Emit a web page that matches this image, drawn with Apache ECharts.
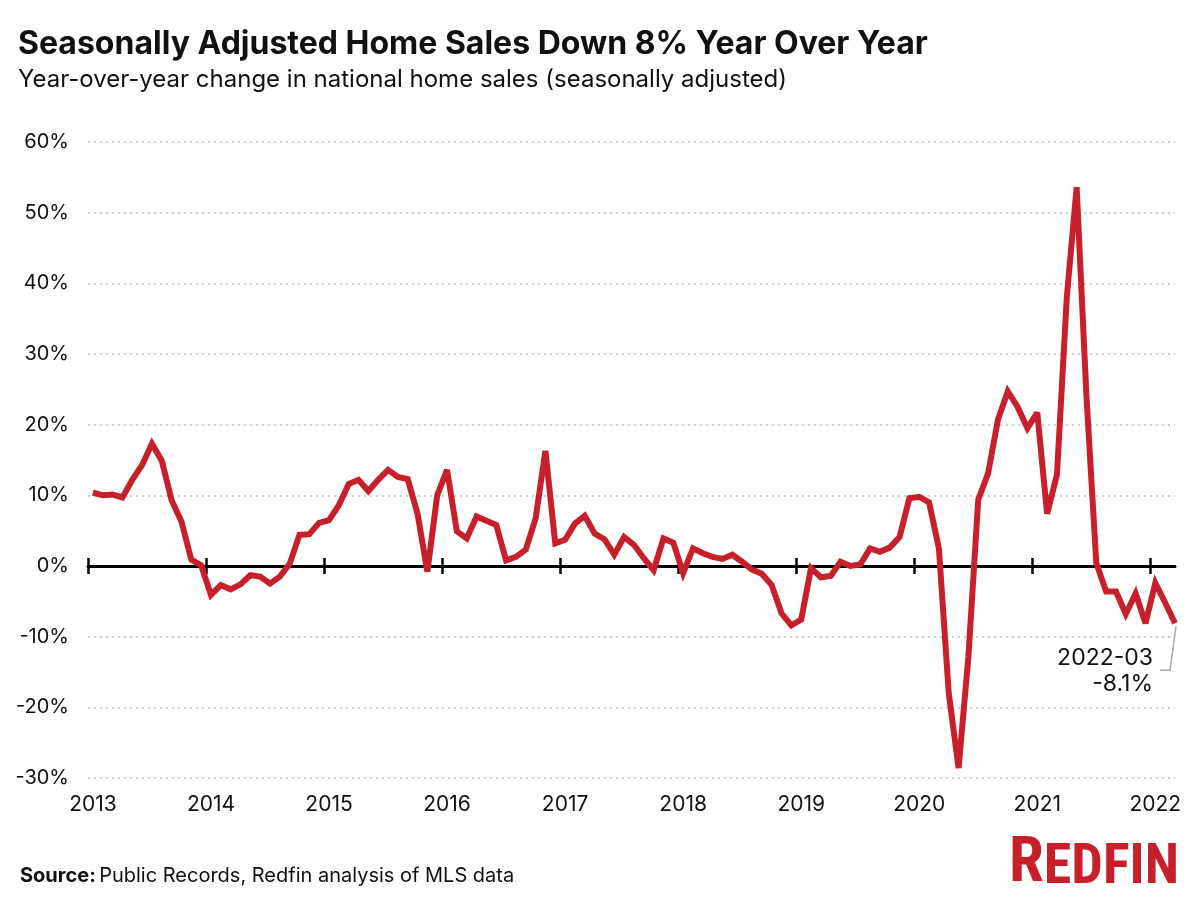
<!DOCTYPE html>
<html>
<head>
<meta charset="utf-8">
<script src="https://cdn.jsdelivr.net/npm/echarts@6/dist/echarts.min.js"></script>
<style>
html,body{margin:0;padding:0;background:#fff;}
#chart{width:1201px;height:899px;}
</style>
</head>
<body>
<div id="chart"></div>
<script>
// ---- Data ----
const startYear = 2013;
const yearLabels = ['2013','2014','2015','2016','2017','2018','2019','2020','2021','2022'];
const yTicks = [-30,-20,-10,0,10,20,30,40,50,60];
// Monthly YoY % change, 2013-01 .. 2022-03
const values2013 = [10.4, 10.0, 10.1, 9.7, 12.2, 14.3, 17.3, 14.9, 9.3, 6.3, 0.9, 0.1];
const values2014 = [-4.1, -2.7, -3.3, -2.6, -1.3, -1.5, -2.5, -1.5, 0.3, 4.4, 4.5, 6.1];
const values2015 = [6.5, 8.6, 11.6, 12.2, 10.6, 12.2, 13.6, 12.6, 12.3, 7.4, -0.8, 10.0];
const values2016 = [13.6, 4.9, 3.9, 7.0, 6.4, 5.8, 0.8, 1.3, 2.3, 6.7, 16.3, 3.2];
const values2017 = [3.7, 6.0, 7.1, 4.6, 3.8, 1.6, 4.1, 3.0, 1.1, -0.6, 3.9, 3.3];
const values2018 = [-1.0, 2.5, 1.8, 1.3, 1.0, 1.6, 0.6, -0.5, -1.1, -2.7, -6.7, -8.4];
const values2019 = [-7.6, -0.3, -1.6, -1.4, 0.6, 0.0, 0.2, 2.5, 2.0, 2.6, 4.1, 9.6];
const values2020 = [9.8, 9.0, 2.5, -18.0, -28.6, -12.8, 9.4, 13.1, 20.7, 24.7, 22.5, 19.5];
const values2021 = [21.7, 7.4, 12.9, 38.0, 53.6, 24.0, 0.4, -3.6, -3.6, -6.8, -3.9, -8.1];
const values2022 = [-2.4, -5.2, -8.1];

const allValues = [].concat(values2013, values2014, values2015, values2016, values2017,
  values2018, values2019, values2020, values2021, values2022);

// month labels and positions (months since Jan 2013, plotted mid-month)
const monthLabels = allValues.map((v, i) => {
  const y = startYear + Math.floor(i / 12);
  const m = (i % 12) + 1;
  return y + '-' + (m < 10 ? '0' + m : m);
});
const seriesData = allValues.map((v, i) => [i + 0.5, v]);
const xMax = allValues.length - 0.5;
const yearTickValues = yearLabels.map((_, k) => k * 12);
const yearLabelValues = yearLabels.map((_, k) => k * 12 + 0.5);

const FONT = 'Inter';
const LOGO_FONT = "'Liberation Sans Narrow', 'Roboto Condensed', Roboto";
const RED = '#c8202a';

const chart = echarts.init(document.getElementById('chart'), null, {renderer: 'canvas'});

const baseX = {
  type: 'value', min: 0, max: xMax, interval: 12,
  splitLine: {show: false}
};

const option = {
  backgroundColor: '#fff',
  animation: false,
  textStyle: {fontFamily: FONT},
  title: [
    {text: 'Seasonally Adjusted Home Sales Down 8% Year Over Year', left: 13, top: 23,
     textStyle: {fontFamily: FONT, fontWeight: 'bold', fontSize: 32, color: '#111'}},
    {text: 'Year-over-year change in national home sales (seasonally adjusted)', left: 13, top: 63,
     textStyle: {fontFamily: FONT, fontWeight: 'normal', fontSize: 24, color: '#111'}}
  ],
  grid: {left: 88, right: 26, top: 142, bottom: 121, containLabel: false},
  xAxis: [
    Object.assign({}, baseX, {
      position: 'bottom',
      axisLine: {show: false, onZero: false},
      axisTick: {show: false},
      axisLabel: {
        show: true, margin: 16, fontSize: 21, color: '#111', fontFamily: FONT,
        customValues: yearLabelValues,
        formatter: v => yearLabels[Math.round((v - 0.5) / 12)] || ''
      }
    }),
    Object.assign({}, baseX, {
      position: 'bottom',
      axisLine: {show: true, onZero: true, onZeroAxisIndex: 0, lineStyle: {color: '#000', width: 3}},
      axisTick: {show: true, inside: false, length: 8, customValues: yearTickValues,
                 lineStyle: {color: '#000', width: 2.5}},
      axisLabel: {show: false}
    }),
    Object.assign({}, baseX, {
      position: 'bottom',
      axisLine: {show: false, onZero: true, onZeroAxisIndex: 0},
      axisTick: {show: true, inside: true, length: 8, customValues: yearTickValues,
                 lineStyle: {color: '#000', width: 2.5}},
      axisLabel: {show: false}
    })
  ],
  yAxis: {
    type: 'value', min: yTicks[0], max: yTicks[yTicks.length - 1], interval: 10,
    axisLine: {show: false}, axisTick: {show: false},
    axisLabel: {formatter: '{value}%', fontSize: 20, color: '#111', margin: 19, fontFamily: FONT},
    splitLine: {show: true, lineStyle: {color: '#cfcfcf', width: 2, type: [2, 4]}}
  },
  series: [{
    type: 'line',
    xAxisIndex: 0,
    data: seriesData,
    showSymbol: false,
    symbol: 'none',
    lineStyle: {color: RED, width: 6, join: 'miter', miterLimit: 3, cap: 'butt'},
    z: 5
  }]
};

chart.setOption(option);

// annotation for the last point + footer
const lastIdx = allValues.length - 1;
const p = chart.convertToPixel({xAxisIndex: 0, yAxisIndex: 0}, seriesData[lastIdx]);
chart.setOption({
  graphic: [
    {id: 'src', type: 'text', left: 20, top: 866,
     style: {
       text: '{b|Source:} {n|Public Records, Redfin analysis of MLS data}',
       rich: {
         b: {fontFamily: FONT, fontWeight: 'bold', fontSize: 20, fill: '#111'},
         n: {fontFamily: FONT, fontSize: 20, fill: '#111'}
       }
     }},
    {id: 'logo', type: 'text', right: 22, top: 834,
     style: {
       text: '{r|R}{e|EDFIN}',
       rich: {
         r: {fontFamily: LOGO_FONT, fontWeight: 'bold', fontSize: 63, fill: RED, verticalAlign: 'bottom'},
         e: {fontFamily: LOGO_FONT, fontWeight: 'bold', fontSize: 56, fill: RED, verticalAlign: 'bottom'}
       }
     }},
    {id: 'leader', type: 'polyline', z: 10,
     shape: {points: [[p[0] + 1, p[1] + 3], [p[0] - 5, p[1] + 47], [p[0] - 15, p[1] + 47]]},
     style: {stroke: '#aaa', lineWidth: 1.5, fill: null}},
    {id: 'lbl1', type: 'text', z: 10, x: p[0] - 22, y: p[1] + 35,
     style: {text: monthLabels[lastIdx], fontFamily: FONT, fontSize: 23, fill: '#111',
             align: 'right', verticalAlign: 'middle'}},
    {id: 'lbl2', type: 'text', z: 10, x: p[0] - 22, y: p[1] + 61,
     style: {text: allValues[lastIdx].toFixed(1) + '%', fontFamily: FONT, fontSize: 23, fill: '#111',
             align: 'right', verticalAlign: 'middle'}}
  ]
});
</script>
</body>
</html>
